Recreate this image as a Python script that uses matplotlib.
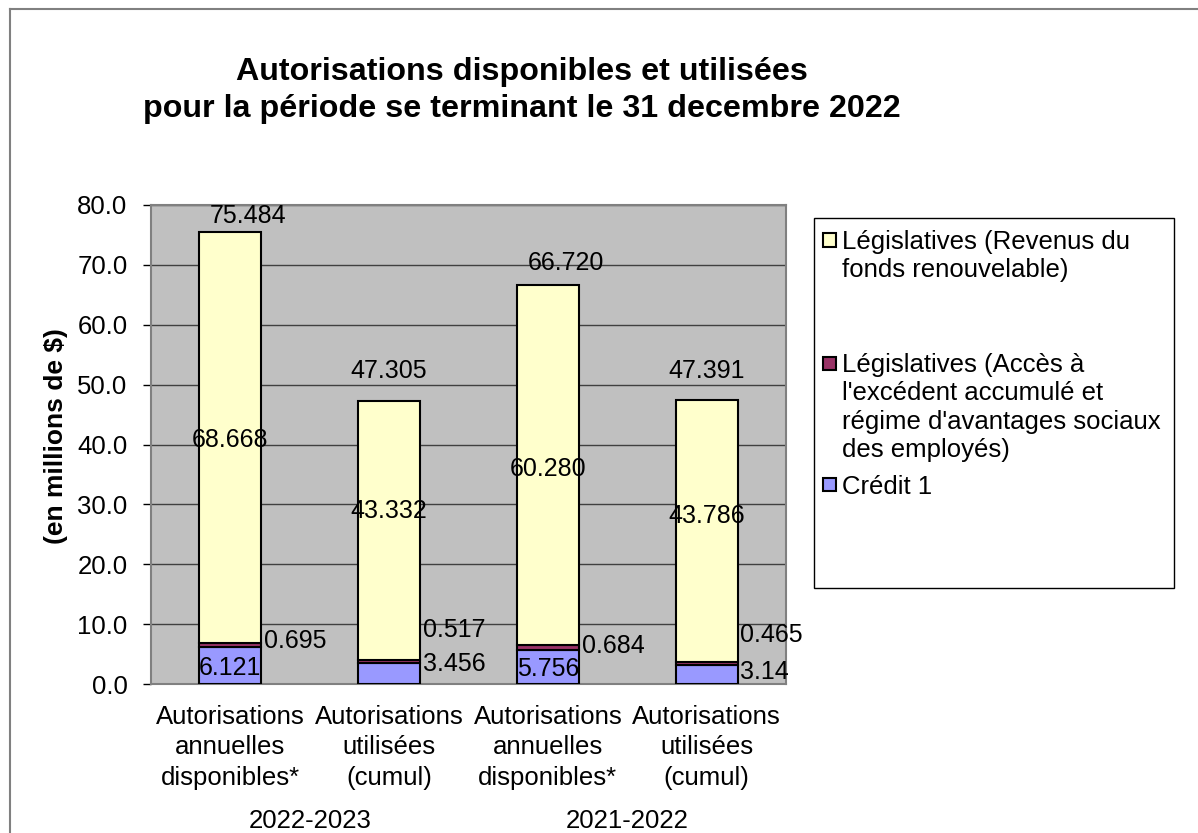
import numpy as np
import matplotlib.pyplot as plt
from matplotlib.patches import Rectangle
from matplotlib.lines import Line2D

plt.rcParams['font.family'] = ['Liberation Sans', 'DejaVu Sans']

# --- données (en millions de $) ---
categories = ['Autorisations\nannuelles\ndisponibles*', 'Autorisations\nutilisées\n(cumul)',
              'Autorisations\nannuelles\ndisponibles*', 'Autorisations\nutilisées\n(cumul)']
years = ['2022-2023', '2021-2022']
credit1 = [6.121, 3.456, 5.756, 3.14]
acces = [0.695, 0.517, 0.684, 0.465]
revenus = [68.668, 43.332, 60.280, 43.786]
totals = [75.484, 47.305, 66.720, 47.391]

legend_labels = ['Législatives (Revenus du\nfonds renouvelable)',
                 "Législatives (Accès à\nl'excédent accumulé et\nrégime d'avantages sociaux\ndes employés)",
                 'Crédit 1']
colors = ['#FFFFCC', '#993366', '#9999FF']

title = 'Autorisations disponibles et utilisées\npour la période se terminant le 31 decembre 2022'

W, H = 1198, 833
def fx(px):
    return px / W
def fy(py):
    return 1 - py / H

fig = plt.figure(figsize=(W / 100, H / 100), dpi=100)
ax = fig.add_axes([fx(151), fy(684), (786 - 151) / W, (684 - 205) / H])
ax.set_facecolor('#C0C0C0')

x = np.arange(len(categories))
w = 0.39
bot_rev = np.add(credit1, acces)
ax.bar(x, credit1, w, color=colors[2], edgecolor='black', lw=1.5, zorder=3)
ax.bar(x, acces, w, bottom=credit1, color=colors[1], edgecolor='black', lw=1.5, zorder=3)
ax.bar(x, revenus, w, bottom=bot_rev, color=colors[0], edgecolor='black', lw=1.5, zorder=3)

fs = 18
# étiquettes (décalages en points, placés comme dans Excel)
rev_dy = [0, 16, -1, 12.5]
for i in range(len(x)):
    ax.annotate(f'{revenus[i]:.3f}', (x[i], bot_rev[i] + revenus[i] / 2), xytext=(0, rev_dy[i]),
                textcoords='offset points', ha='center', va='center_baseline', fontsize=fs, zorder=5)

acc_dy = [3.6, 23.8, 1.7, 21.6]
for i in range(len(x)):
    ax.annotate(f'{acces[i]:g}', (x[i] + w / 2, bot_rev[i]), xytext=(2, acc_dy[i]),
                textcoords='offset points', ha='left', va='center_baseline', fontsize=fs, zorder=5)

credit_inside = [True, False, True, False]
credit_dy = [0, 8.4, 0, 4]
for i in range(len(x)):
    if credit_inside[i]:
        xy, dx, ha = (x[i], credit1[i] / 2), 0, 'center'
    else:
        xy, dx, ha = (x[i] + w / 2, credit1[i] / 2), 2, 'left'
    ax.annotate(f'{credit1[i]:g}', xy, xytext=(dx, credit_dy[i]), textcoords='offset points',
                ha=ha, va='center_baseline', fontsize=fs, zorder=5)

tot_off = [(13, 13), (0, 23), (13, 17), (0, 23)]
for i in range(len(x)):
    ax.annotate(f'{totals[i]:.3f}', (x[i], totals[i]), xytext=tot_off[i], textcoords='offset points',
                ha='center', va='center_baseline', fontsize=fs, zorder=5)

ax.set_xlim(-0.5, len(x) - 0.5)
ax.set_ylim(0, 80)
ax.set_yticks(np.arange(0, 81, 10))
ax.set_yticklabels([f'{v:.1f}' for v in np.arange(0, 81, 10)], fontsize=18.5)
ax.set_xticks(x)
ax.set_xticklabels(categories, fontsize=18.5, linespacing=1.35)
ax.tick_params(axis='x', length=0, pad=15)
ax.tick_params(axis='y', length=6, width=1, pad=11)
ax.yaxis.grid(True, color='#404040', lw=1)
ax.set_axisbelow(True)
for s in ax.spines.values():
    s.set_color('#808080')
    s.set_linewidth(1.5)

ax.set_ylabel('(en millions de $)', fontsize=19, fontweight='bold')
ax.yaxis.set_label_coords(-0.130, 0.517)

for k, yr in enumerate(years):
    ax.annotate(yr, (x[2 * k:2 * k + 2].mean(), 0), xycoords=('data', 'axes fraction'),
                xytext=(0, -97), textcoords='offset points', ha='center',
                va='center_baseline', fontsize=18.5)

fig.text(fx(522), fy(57), title, ha='center', va='top', fontsize=23.2,
         fontweight='bold', linespacing=1.30)

# légende
fig.add_artist(Rectangle((fx(814), fy(588)), (1174 - 814) / W, (588 - 218) / H,
                         transform=fig.transFigure, fill=False, edgecolor='black', lw=1))
leg_y = [240, 363, 485]
for lab, col, yc in zip(legend_labels, colors, leg_y):
    fig.add_artist(Rectangle((fx(823), fy(yc + 6.5)), 13 / W, 13 / H, transform=fig.transFigure,
                             facecolor=col, edgecolor='black', lw=1.5))
    fig.text(fx(842), fy(yc - 10), lab, ha='left', va='top', fontsize=18.5, linespacing=1.23)

# cadre du graphique
fig.add_artist(Line2D([fx(10), fx(10)], [0, fy(9)], color='#808080', lw=1.5, transform=fig.transFigure))
fig.add_artist(Line2D([fx(10), 1], [fy(9), fy(9)], color='#808080', lw=1.5, transform=fig.transFigure))

fig.savefig('out.png', dpi=100)
